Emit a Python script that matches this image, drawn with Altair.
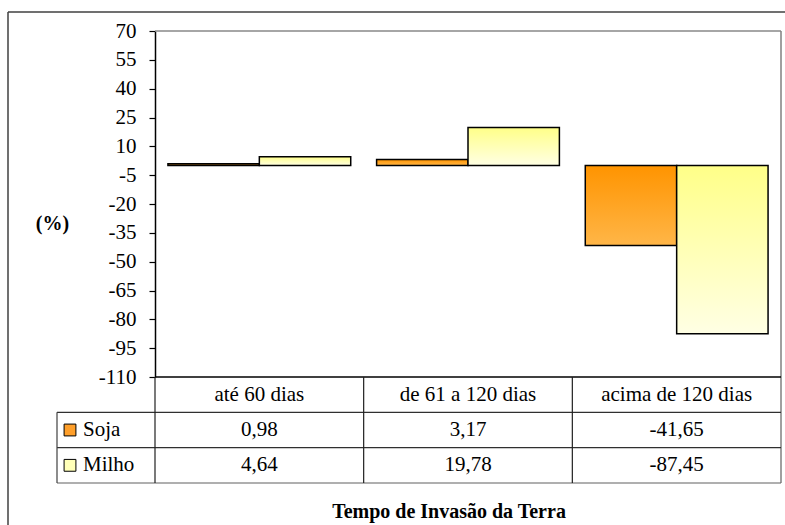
import altair as alt
import pandas as pd

# ---- data ----
categories = ["até 60 dias", "de 61 a 120 dias", "acima de 120 dias"]
series = ["Soja", "Milho"]
soja = [0.98, 3.17, -41.65]
milho = [4.64, 19.78, -87.45]
y_ticks = list(range(-110, 71, 15))
x_title = "Tempo de Invasão da Terra"
y_title = "(%)"

rows = []
for s, vals in zip(series, [soja, milho]):
    for c, v in zip(categories, vals):
        rows.append({"category": c, "series": s, "value": v})
df = pd.DataFrame(rows)
header_df = pd.DataFrame({"category": categories, "row": ["header"] * len(categories)})
legend_df = pd.DataFrame({"series": series, "row": series})

# ---- layout ----
W, H = 626, 452
PLOT_H = 346
FONT = "'Times New Roman', 'Liberation Serif', 'DejaVu Serif', serif"
FS = 21

x_scale = alt.Scale(domain=categories, paddingInner=0.124, paddingOuter=0.062)
xo_scale = alt.Scale(domain=series, paddingInner=0, paddingOuter=0)
y_scale = alt.Scale(domain=[-110, 70], range=[PLOT_H, 0], nice=False, zero=False)
row_scale = alt.Scale(domain=["header"] + series, range=[PLOT_H, H], paddingInner=0, paddingOuter=0)


def grad(top, bottom):
    return alt.LinearGradient(
        gradient="linear",
        stops=[alt.GradientStop(color=top, offset=0), alt.GradientStop(color=bottom, offset=1)],
        x1=0, x2=0, y1=0, y2=1,
    )


fills = {"Soja": grad("#FF9400", "#FFB648"), "Milho": grad("#FFFF88", "#FFFFE4")}
flat = {"Soja": "#FF9F2A", "Milho": "#FFFFB8"}

y_axis = alt.Axis(
    values=y_ticks, labelExpr="'' + datum.value", grid=False,
    domainColor="#000", domainWidth=1.5, tickColor="#000", tickSize=6, tickWidth=1.2,
    labelPadding=13, labelFont=FONT, labelFontSize=FS, labelColor="#000", labelFlush=False,
    title=y_title, titleAngle=0, titleX=-103, titleY=192, titleFont=FONT, titleFontSize=20,
    titleFontWeight="bold", titleAlign="center", titleBaseline="middle", titleColor="#000",
)


def bars(s):
    return alt.Chart(df).transform_filter(alt.datum.series == s).mark_bar(
        fill=fills[s], stroke="#000", strokeWidth=1.5
    ).encode(
        x=alt.X("category:N", scale=x_scale, axis=None, sort=categories),
        xOffset=alt.XOffset("series:N", scale=xo_scale),
        y=alt.Y("value:Q", scale=y_scale, axis=y_axis),
    )


bar_layer = alt.layer(bars("Soja"), bars("Milho"))

header = alt.Chart(header_df).mark_text(font=FONT, fontSize=FS, color="#000").encode(
    x=alt.X("category:N", scale=x_scale, axis=None),
    y=alt.Y("row:N", scale=row_scale, axis=None),
    text="category:N",
)
cells = alt.Chart(df).transform_calculate(
    label="replace('' + datum.value, '.', ',')"
).mark_text(font=FONT, fontSize=FS, color="#000").encode(
    x=alt.X("category:N", scale=x_scale, axis=None),
    y=alt.Y("series:N", scale=row_scale, axis=None),
    text="label:N",
)
legend_sq = alt.Chart(legend_df).mark_square(size=140, stroke="#000", strokeWidth=1, opacity=1).encode(
    x=alt.value(-85),
    y=alt.Y("row:N", scale=row_scale, axis=None),
    fill=alt.Fill("series:N", scale=alt.Scale(domain=series, range=[flat[s] for s in series]), legend=None),
)
legend_txt = alt.Chart(legend_df).mark_text(font=FONT, fontSize=FS, color="#000", align="left").encode(
    x=alt.value(-72),
    y=alt.Y("row:N", scale=row_scale, axis=None),
    text="series:N",
)
table_layer = alt.layer(header, cells, legend_sq, legend_txt)

one = pd.DataFrame({"a": [0]})


def rule(x1, x2, y1, y2, color, width):
    return alt.Chart(one).mark_rule(color=color, strokeWidth=width).encode(
        x=alt.value(x1), x2=alt.value(x2), y=alt.value(y1), y2=alt.value(y2)
    )


step = W / 3
rules = [
    # outer chart border
    rule(-147, 700, -19, -19, "#404040", 1.5),
    rule(-147, -147, -19, 560, "#404040", 1.5),
    # plot area border
    rule(0, W, 0, 0, "#888888", 1.5),
    rule(W, W, 0, H, "#808080", 1.5),
    # table lines
    rule(0, W, PLOT_H, PLOT_H, "#000", 1.5),
    rule(-98, W, PLOT_H + (H - PLOT_H) / 3, PLOT_H + (H - PLOT_H) / 3, "#303030", 1.2),
    rule(-98, W, PLOT_H + 2 * (H - PLOT_H) / 3, PLOT_H + 2 * (H - PLOT_H) / 3, "#303030", 1.2),
    rule(-98, W, H, H, "#606060", 1.2),
    rule(-98, -98, PLOT_H + (H - PLOT_H) / 3, H, "#404040", 1.2),
    rule(0, 0, PLOT_H, H, "#202020", 1.2),
    rule(step, step, PLOT_H, H, "#202020", 1.2),
    rule(2 * step, 2 * step, PLOT_H, H, "#202020", 1.2),
]

title_txt = alt.Chart(one).mark_text(font=FONT, fontSize=20, fontWeight="bold", color="#000").encode(
    x=alt.value(294), y=alt.value(481), text=alt.value(x_title)
)

chart = alt.layer(bar_layer, table_layer, *rules, title_txt).resolve_scale(
    y="independent"
).properties(
    width=W, height=H,
    autosize=alt.AutoSizeParams(type="none"),
    padding={"left": 155, "top": 31, "right": 4, "bottom": 42},
    background="white",
).configure_view(stroke="transparent")

chart.save("out.html", embed_options={"renderer": "svg", "actions": False})
